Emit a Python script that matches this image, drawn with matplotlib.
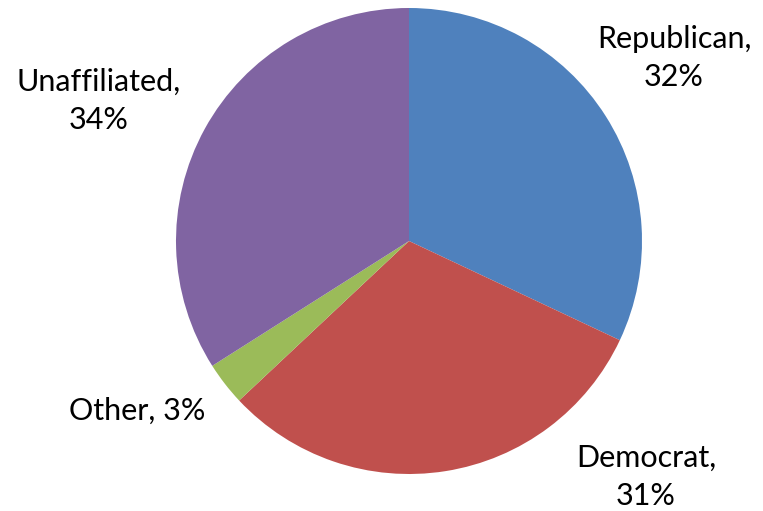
import matplotlib
matplotlib.use("Agg")
import matplotlib.pyplot as plt

categories = ["Republican", "Democrat", "Other", "Unaffiliated"]
values = [32, 31, 3, 34]
colors = ["#4F81BD", "#C0504D", "#9BBB59", "#8064A2"]

plt.rcParams['font.family'] = ['Lato', 'DejaVu Sans']

W, H = 763, 511
fig = plt.figure(figsize=(W / 100, H / 100), dpi=100)
ax = fig.add_axes([0, 0, 1, 1])

ax.pie(values, colors=colors, startangle=90, counterclock=False,
       center=(409, H - 241), radius=233, frame=True,
       wedgeprops=dict(linewidth=0))
ax.set_xlim(0, W)
ax.set_ylim(0, H)
ax.set_aspect('equal')
ax.axis('off')

# label positions (pixel coords: x center, y center), line layout
label_pos = [(674, 58, True), (646, 477, True), (137, 411, False), (99, 101, True)]
for cat, val, (x, y, two) in zip(categories, values, label_pos):
    txt = f"{cat},\n{val}%" if two else f"{cat}, {val}%"
    ax.text(x, H - y, txt, ha='center', va='center', fontsize=22,
            linespacing=1.45, color='black')

fig.savefig("out.png", dpi=100)
